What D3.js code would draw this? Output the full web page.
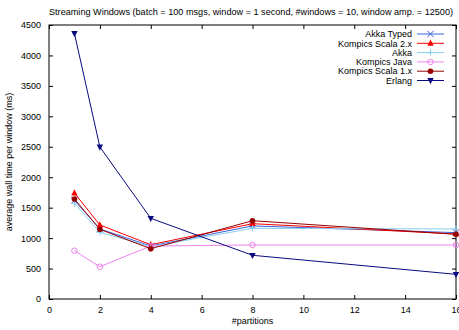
<!DOCTYPE html>
<html><head><meta charset="utf-8">
<script src="https://cdn.jsdelivr.net/npm/d3@7"></script>
<style>body{margin:0;background:#fff}svg{display:block}text{font-family:"Liberation Sans",Arial,sans-serif;fill:#000}</style>
</head><body><svg id="c" width="459" height="330"></svg>
<script>
const xValues = [1, 2, 4, 8, 16];
const seriesNames = ["Akka Typed", "Kompics Scala 2.x", "Akka", "Kompics Java", "Kompics Scala 1.x", "Erlang"];
const akkaTyped = [1620, 1150, 870, 1200, 1090];
const kompicsScala2 = [1740, 1215, 892, 1237, 1068];
const akka = [1572, 1095, 860, 1161, 1150];
const kompicsJava = [793, 530, 870, 887, 887];
const kompicsScala1 = [1642, 1145, 826, 1286, 1062];
const erlang = [4360, 2496, 1325, 718, 405];
const xTicks = [0, 2, 4, 6, 8, 10, 12, 14, 16];
const yTicks = [0, 500, 1000, 1500, 2000, 2500, 3000, 3500, 4000, 4500];
const titleText = "Streaming Windows (batch = 100 msgs, window = 1 second, #windows = 10, window amp. = 12500)";

const series = [
  {name: seriesNames[0], values: akkaTyped, color: "#3a62d8", marker: "x"},
  {name: seriesNames[1], values: kompicsScala2, color: "#ff0000", marker: "tri"},
  {name: seriesNames[2], values: akka, color: "#87cef0", marker: "plus"},
  {name: seriesNames[3], values: kompicsJava, color: "#ee82ee", marker: "ocircle"},
  {name: seriesNames[4], values: kompicsScala1, color: "#960000", marker: "circle"},
  {name: seriesNames[5], values: erlang, color: "#0a0a80", marker: "dtri"}
];

const svg = d3.select("#c");
const L = 49, R = 456, T = 25, B = 299;
const x = d3.scaleLinear().domain([0, 16]).range([L, R]);
const y = d3.scaleLinear().domain([0, 4500]).range([B, T]);

svg.append("text").attr("x", 251).attr("y", 15).attr("text-anchor", "middle").attr("font-size", 9)
  .attr("textLength", 404).attr("lengthAdjust", "spacingAndGlyphs").text(titleText);

const g = svg.append("g");
const tl = 4;
g.append("g").attr("transform", `translate(0,${B})`).call(d3.axisBottom(x).tickValues(xTicks).tickSize(-tl).tickPadding(8).tickFormat(d3.format("d")))
  .call(a => { a.select(".domain").remove(); a.selectAll("text").attr("font-size", 9).attr("font-family", "Liberation Sans, Arial, sans-serif"); });
g.append("g").attr("transform", `translate(0,${T})`).call(d3.axisTop(x).tickValues(xTicks).tickSize(-tl).tickFormat(""))
  .call(a => a.select(".domain").remove());
g.append("g").attr("transform", `translate(${L},0)`).call(d3.axisLeft(y).tickValues(yTicks).tickSize(-tl).tickPadding(8).tickFormat(d3.format("d")))
  .call(a => { a.select(".domain").remove(); a.selectAll("text").attr("font-size", 9).attr("font-family", "Liberation Sans, Arial, sans-serif"); });
g.append("g").attr("transform", `translate(${R},0)`).call(d3.axisRight(y).tickValues(yTicks).tickSize(-tl).tickFormat(""))
  .call(a => a.select(".domain").remove());
g.append("rect").attr("x", L).attr("y", T).attr("width", R - L).attr("height", B - T).attr("fill", "none").attr("stroke", "#000").attr("stroke-width", 1);

svg.append("text").attr("transform", `translate(12,${(T + B) / 2}) rotate(-90)`).attr("text-anchor", "middle").attr("font-size", 9).text("average wall time per window (ms)");
svg.append("text").attr("x", (L + R) / 2).attr("y", 324).attr("text-anchor", "middle").attr("font-size", 9).text("#partitions");

function drawMarker(sel, type, cx, cy, color) {
  const s = 3.2;
  if (type === "x") {
    sel.append("path").attr("d", `M${cx - s},${cy - s}L${cx + s},${cy + s}M${cx - s},${cy + s}L${cx + s},${cy - s}`).attr("stroke", color).attr("stroke-width", 1);
  } else if (type === "plus") {
    sel.append("path").attr("d", `M${cx - s},${cy}L${cx + s},${cy}M${cx},${cy - s}L${cx},${cy + s}`).attr("stroke", color).attr("stroke-width", 1);
  } else if (type === "tri") {
    sel.append("path").attr("d", `M${cx},${cy - s - 0.5}L${cx + s},${cy + s - 0.8}L${cx - s},${cy + s - 0.8}Z`).attr("fill", color);
  } else if (type === "dtri") {
    sel.append("path").attr("d", `M${cx},${cy + s + 0.5}L${cx + s},${cy - s + 0.8}L${cx - s},${cy - s + 0.8}Z`).attr("fill", color);
  } else if (type === "ocircle") {
    sel.append("circle").attr("cx", cx).attr("cy", cy).attr("r", 2.8).attr("fill", "none").attr("stroke", color).attr("stroke-width", 1);
  } else if (type === "circle") {
    sel.append("circle").attr("cx", cx).attr("cy", cy).attr("r", 2.8).attr("fill", color);
  }
}

const line = d3.line().x((d, i) => x(xValues[i])).y(d => y(d));
const plot = svg.append("g");
series.forEach(s => {
  plot.append("path").datum(s.values).attr("d", line).attr("fill", "none").attr("stroke", s.color).attr("stroke-width", 1);
  s.values.forEach((v, i) => drawMarker(plot, s.marker, x(xValues[i]), y(v), s.color));
});

const leg = svg.append("g");
series.forEach((s, i) => {
  const yy = 34 + i * 9.3;
  leg.append("text").attr("x", 412).attr("y", yy + 3.2).attr("text-anchor", "end").attr("font-size", 9).text(s.name);
  leg.append("line").attr("x1", 417).attr("x2", 444).attr("y1", yy).attr("y2", yy).attr("stroke", s.color).attr("stroke-width", 1);
  drawMarker(leg, s.marker, 430.5, yy, s.color);
});
</script></body></html>
